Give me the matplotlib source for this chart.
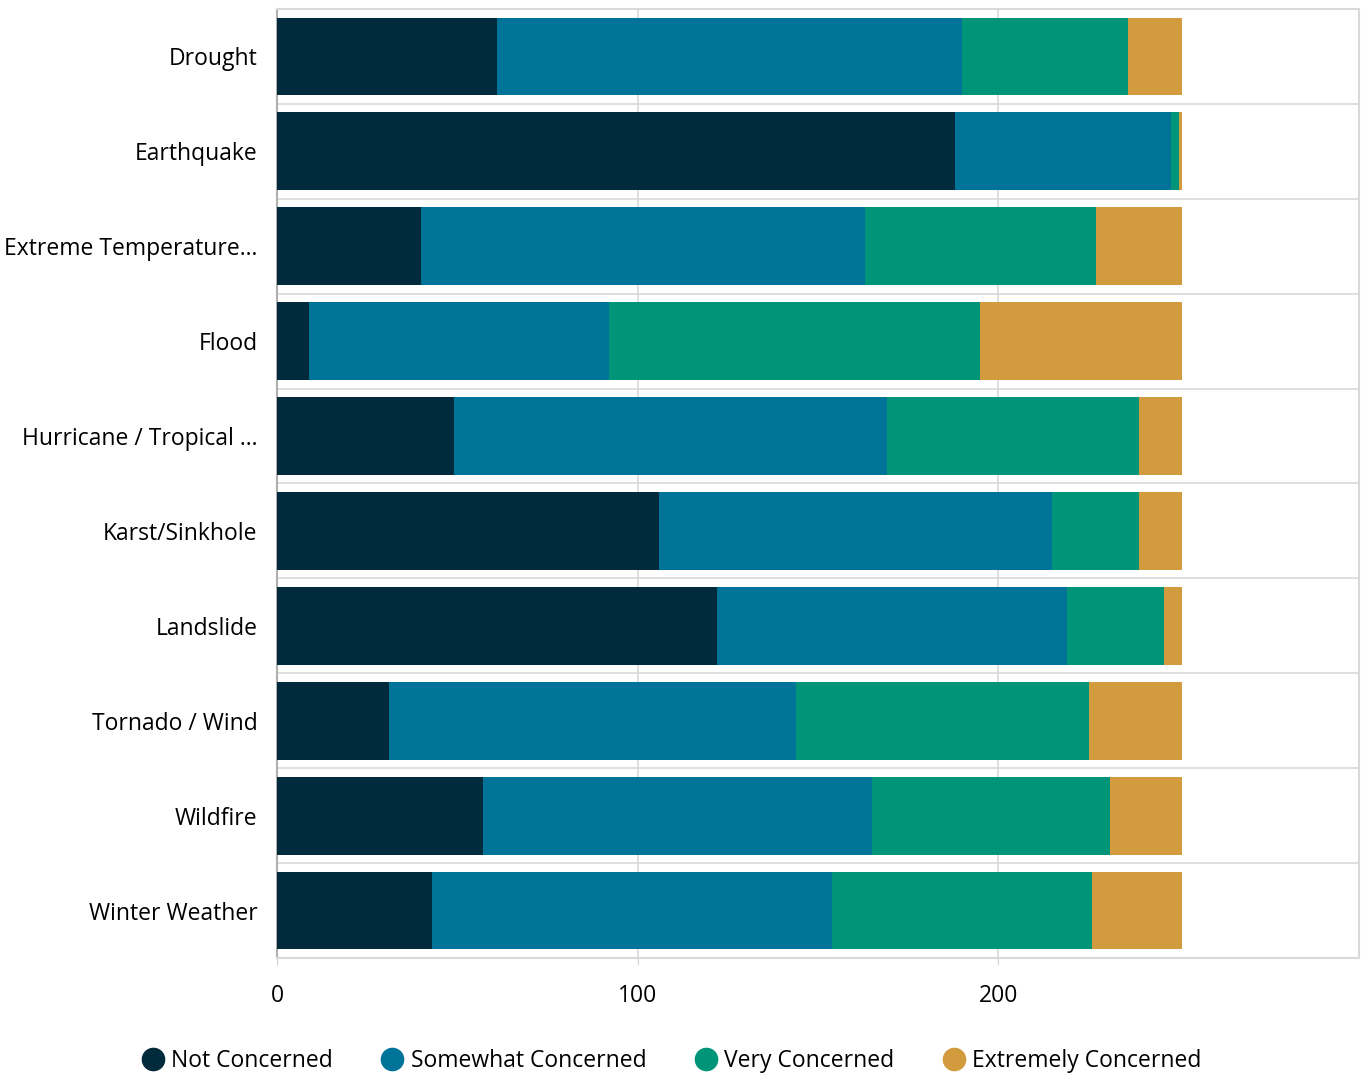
import numpy as np
import matplotlib.pyplot as plt
from matplotlib.lines import Line2D

plt.rcParams['font.family'] = ['Open Sans', 'DejaVu Sans']

hazards = ['Drought', 'Earthquake', 'Extreme Temperature...', 'Flood',
           'Hurricane / Tropical ...', 'Karst/Sinkhole', 'Landslide',
           'Tornado / Wind', 'Wildfire', 'Winter Weather']
not_concerned = [61, 188, 40, 9, 49, 106, 122, 31, 57, 43]
somewhat = [129, 60, 123, 83, 120, 109, 97, 113, 108, 111]
very = [46, 2, 64, 103, 70, 24, 27, 81, 66, 72]
extremely = [15, 1, 24, 56, 12, 12, 5, 26, 20, 25]

series = ['Not Concerned', 'Somewhat Concerned', 'Very Concerned', 'Extremely Concerned']
colors = ['#022a3d', '#007398', '#009479', '#d29c3e']
data = [not_concerned, somewhat, very, extremely]

fig = plt.figure(figsize=(13.68, 10.75), dpi=100)
ax = fig.add_axes([277 / 1368, 1 - 958 / 1075, (1359 - 277) / 1368, (958 - 9) / 1075])

y = np.arange(len(hazards))
left = np.zeros(len(hazards))
for vals, c, name in zip(data, colors, series):
    ax.barh(y, vals, left=left, height=0.82, color=c, label=name, zorder=3)
    left += np.array(vals)

ax.set_xlim(0, 300)
ax.set_ylim(len(hazards) - 0.5, -0.5)
ax.set_yticks(y)
ax.set_yticklabels(hazards, fontsize=16.5)
ax.set_xticks([0, 100, 200])
ax.set_xticklabels(['0', '100', '200'], fontsize=16.5)
ax.tick_params(axis='y', length=0, pad=14)
ax.tick_params(axis='x', length=5, color='#d0d0d0', pad=14)

for yy in np.arange(0.5, len(hazards) - 0.5):
    ax.axhline(yy, color='#d9d9d9', lw=1.2, zorder=1)
for xx in [100, 200]:
    ax.axvline(xx, color='#d9d9d9', lw=1.2, zorder=1)

for s in ['top', 'right', 'bottom']:
    ax.spines[s].set_color('#d9d9d9')
    ax.spines[s].set_linewidth(1.5)
ax.spines['left'].set_color('#b0b0b0')
ax.spines['left'].set_linewidth(1.5)

handles = [Line2D([0], [0], marker='o', color='none', markerfacecolor=c,
                  markeredgecolor=c, markersize=16) for c in colors]
fig.legend(handles, series, loc='center', bbox_to_anchor=(0.49, 1 - 1061 / 1075),
           ncol=4, frameon=False, fontsize=16.5, handletextpad=0.2,
           columnspacing=2.0, handlelength=1.2)

fig.savefig('out.png', dpi=100)
